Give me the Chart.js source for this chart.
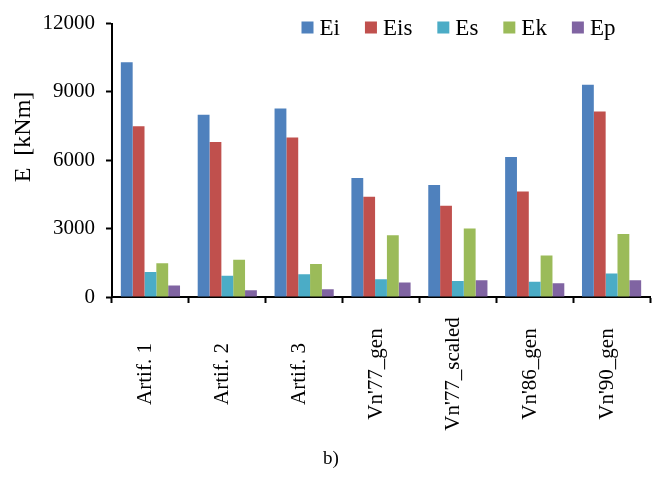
<!DOCTYPE html>
<html>
<head>
<meta charset="utf-8">
<script src="https://cdn.jsdelivr.net/npm/chart.js@4.4.1/dist/chart.umd.min.js"></script>
<style>
  html, body { margin: 0; padding: 0; background: #ffffff; }
  #wrap { width: 661px; height: 477px; }
</style>
</head>
<body>
<div id="wrap"><canvas id="c" width="661" height="477"></canvas></div>
<script>
const categories = ["Artif. 1", "Artif. 2", "Artif. 3", "Vn'77_gen", "Vn'77_scaled", "Vn'86_gen", "Vn'90_gen"];
const seriesNames = ["Ei", "Eis", "Es", "Ek", "Ep"];
const Ei  = [10300, 8000, 8270, 5220, 4920, 6150, 9320];
const Eis = [7500, 6800, 7000, 4400, 4000, 4630, 8140];
const Es  = [1100, 930, 1000, 780, 700, 670, 1030];
const Ek  = [1480, 1640, 1450, 2710, 3010, 1820, 2760];
const Ep  = [500, 300, 340, 640, 740, 600, 740];
const yTicks = [0, 3000, 6000, 9000, 12000];
const yTitle = "E  [kNm]";
const caption = "b)";

const colors = ["#4F81BD", "#C0504D", "#4BACC6", "#9BBB59", "#8064A2"];
const seriesValues = [Ei, Eis, Es, Ek, Ep];
const FONT = "'Liberation Serif', 'Times New Roman', serif";

const datasets = seriesNames.map((name, i) => ({
  label: name,
  data: seriesValues[i],
  backgroundColor: colors[i],
  borderWidth: 0,
  categoryPercentage: 0.77,
  barPercentage: 1.0
}));

const extrasPlugin = {
  id: 'extras',
  afterDraw(chart) {
    const ctx = chart.ctx;
    const xs = chart.scales.x;
    ctx.save();
    ctx.fillStyle = '#000';
    // category labels, rotated, centered vertically in the label band
    ctx.font = "21px " + FONT;
    ctx.textAlign = 'center';
    ctx.textBaseline = 'alphabetic';
    categories.forEach((lab, i) => {
      const px = xs.getPixelForValue(i);
      ctx.save();
      ctx.translate(px + 1, 374);
      ctx.rotate(-Math.PI / 2);
      ctx.fillText(lab, 0, 0);
      ctx.restore();
    });
    // y axis title
    ctx.font = "24px " + FONT;
    ctx.save();
    ctx.translate(30, 137);
    ctx.rotate(-Math.PI / 2);
    ctx.textAlign = 'center';
    ctx.fillText(yTitle, 0, 0);
    ctx.restore();
    // legend
    ctx.font = "23px " + FONT;
    ctx.textAlign = 'left';
    ctx.textBaseline = 'middle';
    let x = 301.5;
    const yMid = 27.5, box = 12;
    seriesNames.forEach((name, i) => {
      ctx.fillStyle = colors[i];
      ctx.fillRect(x, yMid - box / 2, box, box);
      ctx.fillStyle = '#000';
      ctx.fillText(name, x + box + 6, yMid + 1);
      x += box + 6 + ctx.measureText(name).width + 25;
    });
    ctx.restore();
  }
};

new Chart(document.getElementById('c'), {
  type: 'bar',
  data: { labels: categories, datasets },
  options: {
    responsive: false,
    animation: false,
    devicePixelRatio: 1,
    layout: { padding: { top: 17, left: 12, right: 11, bottom: 0 } },
    plugins: {
      legend: { display: false },
      tooltip: { enabled: false },
      title: {
        display: true,
        text: caption,
        position: 'bottom',
        color: '#000',
        font: { family: FONT, size: 19, weight: 'normal' },
        padding: { top: 4, bottom: 6.6 }
      }
    },
    scales: {
      x: {
        grid: { display: true, drawOnChartArea: false, drawTicks: true, tickLength: 6, tickColor: '#000', tickWidth: 2, offset: true },
        border: { display: true, color: '#000', width: 2 },
        ticks: { display: false },
        afterFit(scale) { scale.height = 146.6; }
      },
      y: {
        min: 0,
        max: 12000,
        afterBuildTicks(scale) { scale.ticks = yTicks.map(v => ({ value: v })); },
        grid: { display: true, drawOnChartArea: false, drawTicks: true, tickLength: 6, tickColor: '#000', tickWidth: 2 },
        border: { display: true, color: '#000', width: 2 },
        ticks: { color: '#000', padding: 11, font: { family: FONT, size: 21 }, callback: (v) => String(v) },
        afterFit(scale) { scale.width = 100; }
      }
    }
  },
  plugins: [extrasPlugin]
});
</script>
</body>
</html>
